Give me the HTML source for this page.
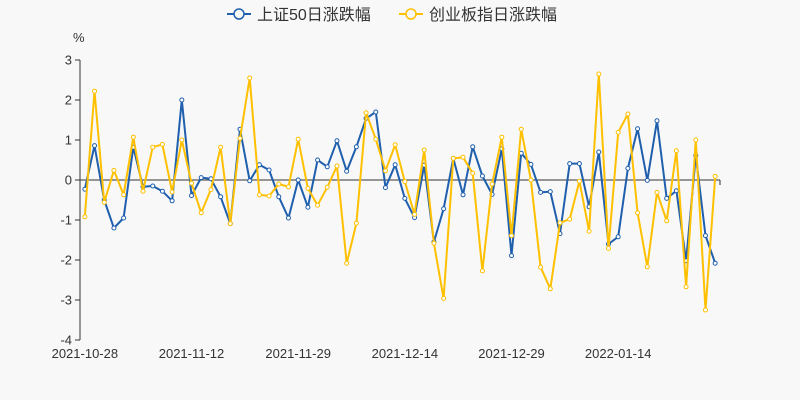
<!DOCTYPE html>
<html><head><meta charset="utf-8">
<style>
body{margin:0;background:#f8f8f8;}
svg{display:block;font-family:"Liberation Sans","Noto Sans CJK SC",sans-serif;}
</style></head>
<body>
<svg id="chart" width="800" height="400" viewBox="0 0 800 400">
<rect width="800" height="400" fill="#f8f8f8"/>
<g>
  <g>
    <line x1="227" y1="14" x2="251" y2="14" stroke="#1f5fad" stroke-width="2"/>
    <circle cx="239" cy="14" r="5" fill="#f8f8f8" stroke="#1f5fad" stroke-width="1.5"/>
    <text x="257" y="20" font-size="16" fill="#333">上证50日涨跌幅</text>
  </g>
  <g>
    <line x1="399" y1="14" x2="423" y2="14" stroke="#ffc000" stroke-width="2"/>
    <circle cx="411" cy="14" r="5" fill="#f8f8f8" stroke="#ffc000" stroke-width="1.5"/>
    <text x="429" y="20" font-size="16" fill="#333">创业板指日涨跌幅</text>
  </g>
</g>
<text x="73" y="42" font-size="13" fill="#333">%</text>
<g id="axes"></g>
<g id="series"></g>
</svg>
<script>
const categories=["2021-10-28","2021-10-29","2021-11-01","2021-11-02","2021-11-03","2021-11-04","2021-11-05","2021-11-08","2021-11-09","2021-11-10","2021-11-11","2021-11-12","2021-11-15","2021-11-16","2021-11-17","2021-11-18","2021-11-19","2021-11-22","2021-11-23","2021-11-24","2021-11-25","2021-11-26","2021-11-29","2021-11-30","2021-12-01","2021-12-02","2021-12-03","2021-12-06","2021-12-07","2021-12-08","2021-12-09","2021-12-10","2021-12-13","2021-12-14","2021-12-15","2021-12-16","2021-12-17","2021-12-20","2021-12-21","2021-12-22","2021-12-23","2021-12-24","2021-12-27","2021-12-28","2021-12-29","2021-12-30","2021-12-31","2022-01-04","2022-01-05","2022-01-06","2022-01-07","2022-01-10","2022-01-11","2022-01-12","2022-01-13","2022-01-14","2022-01-17","2022-01-18","2022-01-19","2022-01-20","2022-01-21","2022-01-24","2022-01-25","2022-01-26","2022-01-27","2022-01-28"];
const sz50=[-0.23,0.86,-0.5,-1.2,-0.95,0.82,-0.17,-0.15,-0.28,-0.52,2.0,-0.39,0.06,0.03,-0.42,-1.09,1.27,-0.02,0.38,0.25,-0.42,-0.95,0,-0.68,0.5,0.33,0.98,0.22,0.83,1.54,1.7,-0.19,0.38,-0.46,-0.94,0.37,-1.55,-0.72,0.54,-0.37,0.83,0.1,-0.36,0.78,-1.89,0.67,0.39,-0.31,-0.29,-1.34,0.41,0.41,-0.67,0.7,-1.6,-1.42,0.29,1.28,-0.01,1.48,-0.46,-0.27,-2.02,0.61,-1.39,-2.08];
const chinext=[-0.92,2.22,-0.56,0.24,-0.37,1.07,-0.28,0.82,0.89,-0.3,1.0,-0.08,-0.82,-0.24,0.82,-1.09,1.04,2.55,-0.37,-0.4,-0.1,-0.17,1.02,-0.21,-0.63,-0.18,0.35,-2.08,-1.08,1.68,1.02,0.23,0.88,-0.04,-0.86,0.75,-1.58,-2.96,0.54,0.57,0.17,-2.27,-0.1,1.07,-1.39,1.27,0,-2.18,-2.72,-1.07,-0.98,-0.03,-1.28,2.65,-1.71,1.19,1.65,-0.82,-2.17,-0.31,-1.02,0.73,-2.67,1.0,-3.25,0.09];
const yTicks=[3,2,1,0,-1,-2,-3,-4];
const xTickIdx=[0,11,22,33,44,55];
const NS="http://www.w3.org/2000/svg";
const X0=80,X1=720,Y0=60,Y1=340,YMAX=3,YMIN=-4;
function xPos(i){const bw=(X1-X0)/categories.length;return X0+bw*(i+0.5);}
function yPos(v){return Y0+(YMAX-v)/(YMAX-YMIN)*(Y1-Y0);}
function mk(tag,attrs,parent){const e=document.createElementNS(NS,tag);for(const k in attrs)e.setAttribute(k,attrs[k]);parent.appendChild(e);return e;}
const axes=document.getElementById('axes');
const yAxis=mk('line',{x1:X0,y1:Y0,x2:X0,y2:Y1,stroke:'#333','stroke-width':1},axes);


yTicks.forEach(v=>{
  const y=yPos(v);
  const t=mk('line',{x1:X0-5,y1:y,x2:X0,y2:y,stroke:'#333'},axes);
  
  
  const l=mk('text',{x:X0-8,y:y+4.5,'text-anchor':'end','font-size':13,fill:'#333'},axes);
  l.textContent=v;
  
  
});
const zl=mk('line',{x1:X0,y1:yPos(0),x2:X1,y2:yPos(0),stroke:'#333','stroke-width':1},axes);


const zt=mk('line',{x1:X1,y1:yPos(0),x2:X1,y2:yPos(0)+5,stroke:'#333'},axes);


xTickIdx.forEach(i=>{
  const l=mk('text',{x:xPos(i),y:358,'text-anchor':'middle','font-size':13,fill:'#333'},axes);
  l.textContent=categories[i];
  
  
});
const series=document.getElementById('series');
function drawSeries(vals,color,name){
  const g=mk('g',{},series);
  
  
  const pts=vals.map((v,i)=>xPos(i).toFixed(1)+','+yPos(v).toFixed(1)).join(' ');
  const pl=mk('polyline',{points:pts,fill:'none',stroke:color,'stroke-width':2,'stroke-linejoin':'round'},g);
  
  
  vals.forEach((v,i)=>{
    const c=mk('circle',{cx:xPos(i),cy:yPos(v),r:2,fill:'#fff',stroke:color,'stroke-width':1},g);
    
    
  });
}
drawSeries(sz50,'#1f5fad','series-sz50');
drawSeries(chinext,'#ffc000','series-chinext');
</script>
</body></html>
